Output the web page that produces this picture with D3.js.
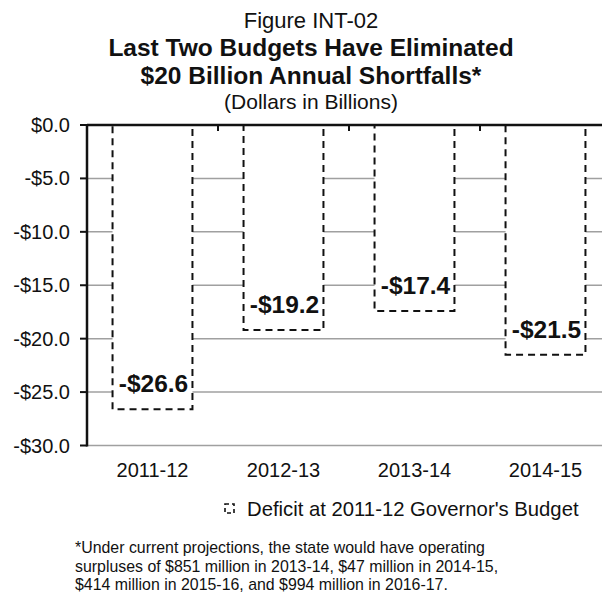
<!DOCTYPE html>
<html><head><meta charset="utf-8">
<script src="https://cdn.jsdelivr.net/npm/d3@7"></script>
<style>
html,body{margin:0;padding:0;background:#fff;}
svg{display:block;font-family:"Liberation Sans",Arial,sans-serif;}
</style></head>
<body>
<svg id="chart" width="602" height="594"></svg>
<script>
const categories = ["2011-12", "2012-13", "2013-14", "2014-15"];
const deficits = [-26.6, -19.2, -17.4, -21.5];
const valueLabels = ["-$26.6", "-$19.2", "-$17.4", "-$21.5"];
const yTicks = [0, -5, -10, -15, -20, -25, -30];
const yTickLabels = ["$0.0", "-$5.0", "-$10.0", "-$15.0", "-$20.0", "-$25.0", "-$30.0"];
const titleLines = ["Figure INT-02", "Last Two Budgets Have Eliminated", "$20 Billion Annual Shortfalls*", "(Dollars in Billions)"];
const legendLabel = "Deficit at 2011-12 Governor's Budget";
const footnoteLines = [
  "*Under current projections, the state would have operating",
  "surpluses of $851 million in 2013-14, $47 million in 2014-15,",
  "$414 million in 2015-16, and $994 million in 2016-17."
];

const svg = d3.select("#chart");
const plotLeft = 87, plotRight = 611, plotTop = 125, plotBottom = 445.5;

const x = d3.scaleBand().domain(categories).range([plotLeft, plotRight]).paddingInner(0.39).paddingOuter(0.195);
const y = d3.scaleLinear().domain([-30, 0]).range([plotBottom, plotTop]);
const step = x.step();

// Title
const titleStyles = [
  {size: 22, weight: "normal", y: 28},
  {size: 24.5, weight: "bold", y: 56},
  {size: 24.5, weight: "bold", y: 84},
  {size: 21, weight: "normal", y: 109}
];
svg.append("g").selectAll("text").data(titleLines).join("text")
  .attr("x", 311).attr("y", (d, i) => titleStyles[i].y)
  .attr("text-anchor", "middle")
  .attr("font-size", (d, i) => titleStyles[i].size)
  .attr("font-weight", (d, i) => titleStyles[i].weight)
  .attr("fill", "#111")
  .text(d => d);

// Gridlines
svg.append("g").selectAll("line").data(yTicks.filter(t => t !== 0)).join("line")
  .attr("x1", plotLeft).attr("x2", plotRight)
  .attr("y1", d => y(d)).attr("y2", d => y(d))
  .attr("stroke", "#a0a0a0").attr("stroke-width", 1.5);

// Bars
svg.append("g").selectAll("rect").data(deficits).join("rect")
  .attr("x", (d, i) => x(categories[i]))
  .attr("width", x.bandwidth())
  .attr("y", d => y(0))
  .attr("height", d => y(d) - y(0))
  .attr("fill", "#fff")
  .attr("stroke", "#111").attr("stroke-width", 2)
  .attr("stroke-dasharray", "7,5");

// Value labels
svg.append("g").selectAll("text").data(deficits).join("text")
  .attr("x", (d, i) => x(categories[i]) + x.bandwidth() / 2 + 1)
  .attr("y", d => y(d) - 17)
  .attr("text-anchor", "middle")
  .attr("font-size", 24.5).attr("font-weight", "bold").attr("fill", "#111")
  .text((d, i) => valueLabels[i]);

// Zero line (x axis at top) with category ticks
svg.append("line").attr("x1", plotLeft).attr("x2", plotRight)
  .attr("y1", y(0)).attr("y2", y(0))
  .attr("stroke", "#111").attr("stroke-width", 2.5);
svg.append("g").selectAll("line").data(categories.slice(1)).join("line")
  .attr("x1", d => x(d) - step * x.paddingInner() / 2)
  .attr("x2", d => x(d) - step * x.paddingInner() / 2)
  .attr("y1", y(0)).attr("y2", y(0) + 6)
  .attr("stroke", "#111").attr("stroke-width", 2);

// Y axis
svg.append("line").attr("x1", plotLeft).attr("x2", plotLeft)
  .attr("y1", y(0) - 1).attr("y2", y(-30) + 1)
  .attr("stroke", "#111").attr("stroke-width", 2.5);
svg.append("g").selectAll("line").data(yTicks).join("line")
  .attr("x1", plotLeft - 7).attr("x2", plotLeft)
  .attr("y1", d => y(d)).attr("y2", d => y(d))
  .attr("stroke", "#111").attr("stroke-width", 2);
svg.append("g").selectAll("text").data(yTicks).join("text")
  .attr("x", 70).attr("y", d => y(d) + 7)
  .attr("text-anchor", "end")
  .attr("font-size", 20).attr("fill", "#111")
  .text((d, i) => yTickLabels[i]);

// X labels
svg.append("g").selectAll("text").data(categories).join("text")
  .attr("x", d => x(d) + x.bandwidth() / 2)
  .attr("y", 477)
  .attr("text-anchor", "middle")
  .attr("font-size", 20).attr("fill", "#111")
  .text(d => d);

// Legend
svg.append("rect").attr("x", 225).attr("y", 504).attr("width", 9).attr("height", 9)
  .attr("fill", "#fff").attr("stroke", "#111").attr("stroke-width", 1.6)
  .attr("stroke-dasharray", "4,3");
svg.append("text").attr("x", 247).attr("y", 516)
  .attr("font-size", 20.3).attr("fill", "#111").text(legendLabel);

// Footnote
svg.append("g").selectAll("text").data(footnoteLines).join("text")
  .attr("x", 75).attr("y", (d, i) => 553 + i * 18.5)
  .attr("font-size", 15.9).attr("fill", "#111")
  .text(d => d);
</script>
</body></html>
